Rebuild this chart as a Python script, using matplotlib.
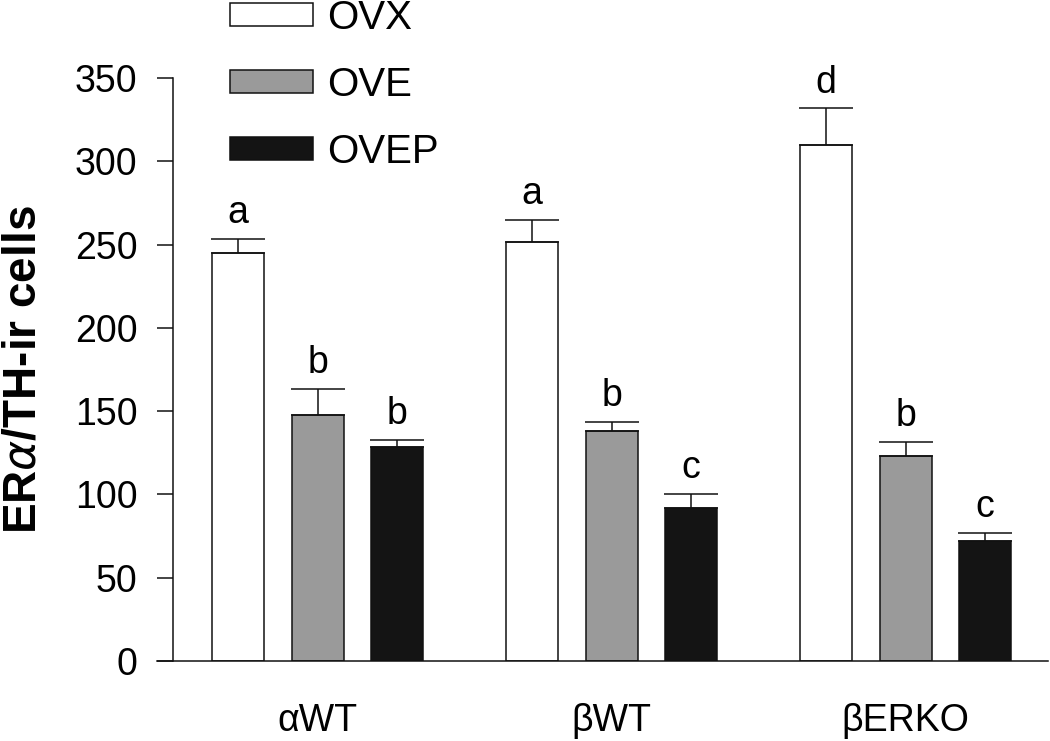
import matplotlib
matplotlib.use("Agg")
import matplotlib.pyplot as plt
from matplotlib.patches import Patch
import numpy as np

plt.rcParams['font.family'] = ['Liberation Sans', 'DejaVu Sans']

groups = ['αWT', 'βWT', 'βERKO']
series = ['OVX', 'OVE', 'OVEP']
ovx = [245, 251.5, 309.7]
ovx_err = [8.5, 13.2, 22.0]
ove = [147.7, 138.0, 123.2]
ove_err = [15.6, 5.6, 8.4]
ovep = [128.3, 91.6, 72.2]
ovep_err = [4.5, 8.4, 4.4]
letters_ovx = ['a', 'a', 'd']
letters_ove = ['b', 'b', 'b']
letters_ovep = ['b', 'c', 'c']
yticks = [0, 50, 100, 150, 200, 250, 300, 350]

values = [ovx, ove, ovep]
errors = [ovx_err, ove_err, ovep_err]
letters = [letters_ovx, letters_ove, letters_ovep]
colors = ['white', '#9a9a9a', '#141414']

fig = plt.figure(figsize=(10.5, 7.41), dpi=100)
ax = fig.add_axes([157/1050, 1-661/741, (1048-157)/1050, (661-78)/741])

group_spacing = 3.7
centers = np.arange(len(groups)) * group_spacing
width = 0.655
lw = 1.1

for j, (vals, errs, lets, c) in enumerate(zip(values, errors, letters, colors)):
    xs = centers + (j - 1) * 1.0
    ax.bar(xs, vals, width=width, color=c, edgecolor='#111111', linewidth=lw, zorder=2)
    ax.errorbar(xs, vals, yerr=[np.zeros(len(vals)), errs], fmt='none',
                ecolor='#111111', elinewidth=lw, capsize=19.5, capthick=lw, zorder=3)
    for x, v, e, t in zip(xs, vals, errs, lets):
        ax.annotate(t, (x, v + e), xytext=(0, 11.5), textcoords='offset points',
                    ha='center', va='baseline', fontsize=27, annotation_clip=False)

ax.set_xlim(-2.02, 9.19)
ax.set_ylim(0, 350)
ax.spines['top'].set_visible(False)
ax.spines['right'].set_visible(False)
ax.spines['left'].set_position(('data', -1.82))
ax.spines['left'].set_linewidth(lw)
ax.spines['bottom'].set_linewidth(lw)
ax.spines['left'].set_color('#111111')
ax.spines['bottom'].set_color('#111111')

ax.set_yticks(yticks)
ax.tick_params(axis='y', length=11.5, width=lw, pad=14, labelsize=27, color='#111111')
ax.set_xticks(centers)
ax.set_xticklabels(groups)
ax.tick_params(axis='x', length=0, pad=30, labelsize=27)

ax.set_ylabel('ER$\\alpha$/TH-ir cells', fontsize=33, fontweight='bold')
ax.yaxis.set_label_coords(-0.125, 0.5)

handles = [Patch(facecolor=c, edgecolor='#111111', linewidth=lw) for c in colors]
leg = ax.legend(handles, series, loc='upper left',
                bbox_to_anchor=(230/1050, 1 + 1/741), bbox_transform=fig.transFigure,
                frameon=False, fontsize=29, handlelength=2.06, handleheight=0.5,
                handletextpad=0.35, labelspacing=0.72, borderpad=0, borderaxespad=0)

fig.savefig('out.png', dpi=100)
